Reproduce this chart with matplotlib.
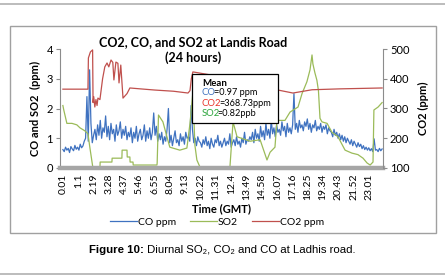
import matplotlib.pyplot as plt
import numpy as np
from matplotlib.patches import Rectangle
from matplotlib.lines import Line2D
from matplotlib.offsetbox import TextArea, HPacker, AnchoredOffsetbox

plt.rcParams['font.family'] = ['Lato', 'DejaVu Sans']

# x tick labels (time, h.mm) every 69 minutes
tick_labels = ['0.01', '1.1', '2.19', '3.28', '4.37', '5.46', '6.55', '8.04', '9.13', '10.22',
               '11.31', '12.4', '13.49', '14.58', '16.07', '17.16', '18.25', '19.34', '20.43',
               '21.52', '23.01']
tick_minutes = [1 + 69 * k for k in range(len(tick_labels))]

# CO (ppm), roughly every 6 minutes
co = [0.62, 0.55, 0.7, 0.6, 0.66, 0.52, 0.72, 0.64, 0.58, 0.76, 0.63, 0.7, 0.6, 0.8, 0.68, 0.74, 0.9,
      1.0, 2.4, 0.9, 3.3, 1.5, 0.85, 1.1,
      1.3, 0.95, 1.45, 1.1, 1.6, 1.0, 1.35, 1.2, 1.75, 1.05, 1.4, 0.95, 1.5, 1.15, 1.3, 0.9, 1.45,
      1.1, 1.25, 1.55, 1.0, 1.3, 1.1, 1.4, 0.95, 1.2,
      1.05, 1.35, 0.85, 1.2, 1.0, 1.4, 0.9, 1.15, 1.3, 0.95, 1.1, 1.45, 0.9, 1.25, 1.0, 1.35, 0.95,
      1.2, 1.85, 1.1, 1.4, 0.9, 1.15,
      0.95, 1.2, 0.8, 1.05, 0.9, 1.3, 2.0, 0.85, 1.1, 0.75, 1.0, 1.25, 0.85, 0.95, 0.75, 1.15, 0.9,
      1.05, 0.8, 1.2, 1.0, 1.05, 0.9, 2.1, 1.3, 0.85, 1.0, 0.75, 1.05, 0.9,
      0.85, 0.7, 0.95, 0.8, 1.05, 0.75, 0.9, 0.65, 1.0, 0.8, 0.7, 0.95, 0.85, 1.1, 0.75, 0.9, 0.7,
      0.85, 1.0, 0.75, 0.9, 0.8, 1.15, 0.7, 0.85, 0.95, 0.75, 1.05, 0.8, 0.9, 0.7, 1.0, 0.85, 1.2,
      0.8, 0.95, 0.9, 1.05,
      0.95, 1.2, 0.85, 1.3, 1.0, 1.15, 0.9, 1.4, 1.05, 1.25, 0.95, 1.5, 1.1, 1.3, 1.0, 1.6, 1.15,
      1.35, 1.05, 1.45, 1.2, 1.3, 1.1, 1.55, 1.25, 1.4, 1.05, 1.5, 1.2, 1.35, 1.15, 1.45,
      2.5,
      1.3, 1.5, 1.2, 1.6, 1.35, 1.45, 1.25, 1.55, 1.4, 1.65, 1.3, 1.5, 1.2, 1.45, 1.35, 1.6, 1.25,
      1.4, 1.3, 1.5, 1.2, 1.4, 1.3, 1.45, 1.15, 1.35, 1.25,
      1.2, 1.05, 1.3, 1.1, 1.2, 1.0, 1.15, 0.95, 1.1, 0.9, 1.05, 0.85, 1.0, 0.9, 0.8, 0.95, 0.75,
      0.9, 0.8, 0.7, 0.85, 0.72, 0.8, 0.65, 0.75, 0.62, 0.7, 0.6, 0.68, 0.58, 0.65, 0.55, 0.98,
      0.6, 0.62, 0.55, 0.66, 0.58, 0.64]
co_min = np.linspace(1, 1440, len(co))

# SO2
so2_min = [1, 5, 19, 42, 64, 78, 100, 114, 123, 136, 168, 169, 222, 223, 267, 268, 290, 291,
           303, 304, 317, 318, 425, 426, 432, 452, 470, 483, 528, 560, 574, 587, 596, 605,
           619, 754, 768, 786, 845, 890, 921, 935, 957, 966, 1002, 1025, 1061, 1079, 1101,
           1115, 1124, 1128, 1137, 1146, 1153, 1160, 1169, 1192, 1214, 1241, 1273, 1304,
           1331, 1354, 1372, 1386, 1399, 1403, 1422, 1440]
so2 = [2.1, 1.95, 1.5, 1.5, 1.45, 1.35, 1.25, 1.15, 0.67, 0.02, 0.02, 0.2, 0.2, 0.33, 0.33,
       0.6, 0.6, 0.37, 0.37, 0.2, 0.2, 0.1, 0.1, 0.17, 1.78, 1.55, 1.05, 0.7, 0.6, 0.67, 1.5,
       2.55, 0.77, 0.27, 0.03, 0.03, 1.55, 1.05, 0.9, 0.95, 0.27, 0.53, 0.7, 1.6, 1.6, 1.88,
       2.05, 2.5, 2.9, 3.3, 3.8, 3.5, 3.2, 2.95, 2.6, 1.67, 1.55, 1.5, 1.2, 1.05, 0.6, 0.5,
       0.45, 0.33, 0.17, 0.1, 0.2, 1.95, 2.05, 2.2]

# CO2 (ppm), right axis
co2_min = [1, 114, 116, 125, 135, 137, 140, 145, 150, 155, 159, 168, 180, 190, 200, 208, 218,
           226, 231, 240, 249, 254, 262, 272, 290, 303, 350, 416, 500, 565, 574, 580, 587, 650,
           800, 971, 1038, 1124, 1250, 1440]
co2 = [365, 365, 470, 490, 497, 320, 340, 305, 330, 310, 335, 330, 400, 440, 453, 440, 463,
       455, 396, 456, 452, 386, 446, 335, 350, 369, 366, 362, 358, 352, 360, 400, 423, 415,
       395, 362, 352, 363, 366, 369]

c_co, c_so2, c_co2 = '#3f72c0', '#9bbb59', '#c0504d'
grey = '#8c8c8c'
W, H = 445, 278

fig = plt.figure(figsize=(4.45, 2.78), dpi=100)
ax = fig.add_axes([60 / W, 1 - 168 / H, (383 - 60) / W, (168 - 49) / H])
ax.plot(co_min, co, color=c_co, linewidth=0.9)
ax.plot(so2_min, so2, color=c_so2, linewidth=0.9)
ax.set_xlim(-12, 1444)
ax.set_ylim(0, 4)
ax.set_yticks([0, 1, 2, 3, 4])
ax.set_xticks(tick_minutes)
ax.set_xticklabels(tick_labels, rotation=90, fontsize=7.5)
ax.tick_params(axis='x', length=0, pad=4)
ax.tick_params(axis='y', length=3, color=grey, labelsize=8, pad=2)
ax.set_ylabel('CO and SO2  (ppm)', fontsize=8, fontweight='bold', labelpad=4)
ax.set_xlabel('Time (GMT)', fontsize=8, fontweight='bold', labelpad=2)
for s in ['top', 'right']:
    ax.spines[s].set_visible(False)
ax.spines['left'].set_color(grey)
ax.spines['bottom'].set_color('#a6a6a6')
ax.spines['bottom'].set_linewidth(3.2)

ax2 = ax.twinx()
ax2.plot(co2_min, co2, color=c_co2, linewidth=0.9)
ax2.set_ylim(100, 500)
ax2.set_yticks([100, 200, 300, 400, 500])
ax2.tick_params(axis='y', length=3, color=grey, labelsize=8, pad=2)
ax2.set_ylabel('CO2 (ppm)', fontsize=8, fontweight='bold', labelpad=6)
for s in ['top', 'left', 'bottom']:
    ax2.spines[s].set_visible(False)
ax2.spines['right'].set_color(grey)

fig.text(193 / W, 1 - 50 / H, 'CO2, CO, and SO2 at Landis Road\n(24 hours)', ha='center',
         va='center', fontsize=9, fontweight='bold', linespacing=1.35)

handles = [Line2D([], [], color=c_co, lw=0.9), Line2D([], [], color=c_so2, lw=0.9),
           Line2D([], [], color=c_co2, lw=0.9)]
fig.legend(handles, ['CO ppm', 'SO2', 'CO2 ppm'], loc='center', ncol=3, frameon=False,
           bbox_to_anchor=(217 / W, 1 - 222 / H), fontsize=7.5, handlelength=2.6,
           handletextpad=0.1, columnspacing=1.3, borderpad=0)

# mean box
fig.patches.append(Rectangle((192 / W, 1 - 123 / H), 86 / W, 49 / H, transform=fig.transFigure,
                             facecolor='white', edgecolor='black', linewidth=0.9, zorder=5))
renderer = fig.canvas.get_renderer()
fig.text(202 / W, 1 - 84 / H, 'Mean', fontsize=7, fontweight='bold', va='center', zorder=6)
mean_rows = [('CO', '=0.97 ppm', c_co), ('CO2', '=368.73ppm', '#e8342a'), ('SO2', '=0.82ppb', '#2aa43a')]
for k, (name, val, col) in enumerate(mean_rows):
    y = 1 - (95 + 10.7 * k) / H
    t = fig.text(202 / W, y, name, fontsize=6.8, color=col, va='baseline', zorder=6)
    x1 = (t.get_window_extent(renderer).x1 - 2.5) / fig.bbox.width
    fig.text(x1, y, val, fontsize=6.6, va='baseline', zorder=6)

# chart border and page lines
fig.patches.append(Rectangle((10 / W, 1 - 233 / H), 426 / W, 207 / H, transform=fig.transFigure,
                             facecolor='none', edgecolor='#a0a0a0', linewidth=1.0))
fig.add_artist(Line2D([0, 1], [1 - 4 / H] * 2, color='#b0b0b0', lw=1.2))
fig.add_artist(Line2D([0, 1], [1 - 274 / H] * 2, color='#b0b0b0', lw=1.2))

cap_font = ['Liberation Sans', 'DejaVu Sans']
cap = HPacker(children=[TextArea('Figure 10:', textprops=dict(fontsize=8.2, fontweight='bold', family=cap_font)),
                        TextArea(' Diurnal SO\u2082, CO\u2082 and CO at Ladhis road.',
                                 textprops=dict(fontsize=8.2, family=cap_font))], sep=0, pad=0)
fig.add_artist(AnchoredOffsetbox(loc='center', child=cap, bbox_to_anchor=(222 / W, 1 - 250 / H),
                                 bbox_transform=fig.transFigure, frameon=False, pad=0, borderpad=0))

fig.savefig('out.png', dpi=100)
